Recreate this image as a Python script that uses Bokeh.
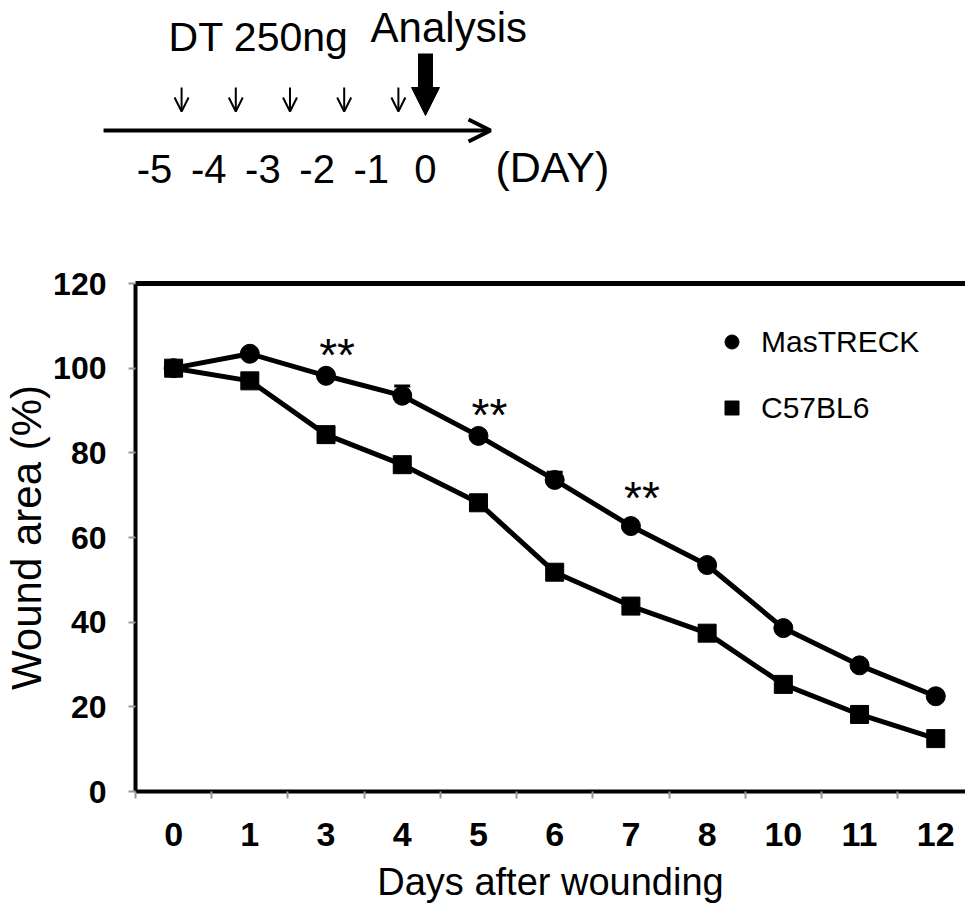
from bokeh.plotting import figure
from bokeh.models import (Range1d, FixedTicker, LinearAxis, Legend, LegendItem,
                          ColumnDataSource, Arrow, OpenHead, NormalHead, Whisker, TeeHead)
from bokeh.layouts import column
from bokeh.core.properties import value
from bokeh.embed import file_html
from bokeh.resources import INLINE

# ---------------- data ----------------
days = ["0", "1", "3", "4", "5", "6", "7", "8", "10", "11", "12"]
mastreck = [100, 103.4, 98.2, 93.5, 84.0, 73.6, 62.7, 53.5, 38.6, 29.8, 22.5]
mastreck_err = [1.0, 1.0, 1.0, 2.3, 1.0, 1.8, 1.0, 1.0, 1.0, 1.0, 1.0]
c57bl6 = [100, 97.0, 84.3, 77.2, 68.2, 51.8, 43.8, 37.4, 25.3, 18.2, 12.5]
c57bl6_err = [1.0, 1.0, 1.0, 1.0, 1.0, 1.0, 1.0, 1.0, 1.0, 1.0, 1.0]
sig_days = ["3", "5", "7"]
sig_marks = ["**", "**", "**"]
sig_y = [105.3, 91.1, 71.5]
y_ticks = [0, 20, 40, 60, 80, 100, 120]

timeline_days = [-5, -4, -3, -2, -1, 0]
timeline_labels = ["-5", "-4", "-3", "-2", "-1", "0"]
dt_days = [-4.5, -3.5, -2.5, -1.5, -0.5]
analysis_day = 0

FONT = "Liberation Sans"
W = 965

# ---------------- top timeline diagram ----------------
top = figure(width=W, height=215, x_range=Range1d(-7.841, 9.963),
             y_range=Range1d(215, 0), output_backend="svg", toolbar_location=None,
             min_border=0)
top.axis.visible = False
top.grid.visible = False
top.outline_line_color = None

top.add_layout(Arrow(end=OpenHead(size=22, line_width=4, line_color="black"),
                     x_start=-5.94, y_start=130, x_end=1.2, y_end=130,
                     line_width=4, line_color="black"))

dt_src = ColumnDataSource(dict(x=dt_days, y0=[87] * len(dt_days), y1=[111] * len(dt_days)))
top.add_layout(Arrow(end=OpenHead(size=14, line_width=2, line_color="black"),
                     x_start="x", y_start="y0", x_end="x", y_end="y1",
                     line_width=2, line_color="black", source=dt_src))

top.add_layout(Arrow(end=NormalHead(size=28, fill_color="black", line_color="black"),
                     x_start=analysis_day, y_start=53, x_end=analysis_day, y_end=115,
                     line_width=15, line_color="black"))

top.text(x=[-3.08], y=[36], text=["DT 250ng"], text_align="center",
         text_baseline="alphabetic", text_font=value(FONT), text_font_size="41px",
         text_color="black")
top.text(x=[0.43], y=[27], text=["Analysis"], text_align="center",
         text_baseline="alphabetic", text_font=value(FONT), text_font_size="42px",
         text_color="black")
top.text(x=timeline_days, y=[168] * len(timeline_days), text=timeline_labels,
         text_align="center", text_baseline="alphabetic", text_font=value(FONT),
         text_font_size="40px", text_color="black")
top.text(x=[2.34], y=[166], text=["(DAY)"], text_align="center",
         text_baseline="alphabetic", text_font=value(FONT), text_font_size="43px",
         text_color="black")

# ---------------- main chart ----------------
xs = [i + 0.5 for i in range(len(days))]
src = ColumnDataSource(dict(
    x=xs, m=mastreck, m_up=[v + e for v, e in zip(mastreck, mastreck_err)],
    c=c57bl6, c_up=[v + e for v, e in zip(c57bl6, c57bl6_err)]))

p = figure(width=W, height=690, x_range=Range1d(0, 10.89),
           y_range=Range1d(0, 120), output_backend="svg", toolbar_location=None,
           min_border_left=132, min_border_top=68, min_border_right=0,
           min_border_bottom=114,
           x_axis_label="Days after wounding", y_axis_label="Wound area (%)")
p.grid.visible = False
p.outline_line_color = None

for f in (top, p):
    if "frame_align" in f.properties():
        f.frame_align = False

p.add_layout(Whisker(source=src, base="x", lower="m", upper="m_up",
                     upper_head=TeeHead(size=16, line_width=3, line_color="black"),
                     lower_head=None, line_width=3, line_color="black", level="underlay"))
p.add_layout(Whisker(source=src, base="x", lower="c", upper="c_up",
                     upper_head=TeeHead(size=16, line_width=3, line_color="black"),
                     lower_head=None, line_width=3, line_color="black", level="underlay"))

p.line("x", "m", source=src, line_width=5, line_color="black")
p.line("x", "c", source=src, line_width=5, line_color="black")
circ = p.scatter("x", "m", source=src, marker="circle", size=19,
                 fill_color="black", line_color="black")
sq = p.scatter("x", "c", source=src, marker="square", size=18,
               fill_color="black", line_color="black")

sig_x = [xs[days.index(d)] for d in sig_days]
p.text(x=sig_x, y=sig_y, text=sig_marks, x_offset=11, y_offset=9,
       text_align="center", text_baseline="middle", text_font=value(FONT),
       text_font_size="46px", text_color="black")

xa = p.xaxis[0]
xa.ticker = FixedTicker(ticks=xs, minor_ticks=list(range(len(days) + 1)))
xa.major_label_overrides = {x: d for x, d in zip(xs, days)}
xa.major_tick_line_color = None
xa.major_tick_out = 7
xa.major_tick_in = 0
xa.minor_tick_line_color = "#999999"
xa.minor_tick_line_width = 2
xa.minor_tick_out = 7
xa.minor_tick_in = 0
xa.axis_line_color = "black"
xa.axis_line_width = 4
xa.major_label_text_font = FONT
xa.major_label_text_font_size = "34px"
xa.major_label_text_font_style = "bold"
xa.major_label_text_color = "black"
xa.major_label_standoff = 24
xa.axis_label_text_font = FONT
xa.axis_label_text_font_size = "38px"
xa.axis_label_text_font_style = "normal"
xa.axis_label_text_color = "black"
xa.axis_label_standoff = 12

ya = p.yaxis[0]
ya.ticker = FixedTicker(ticks=y_ticks)
ya.minor_tick_line_color = None
ya.major_tick_line_color = "#999999"
ya.major_tick_line_width = 2
ya.major_tick_out = 7
ya.major_tick_in = 0
ya.axis_line_color = "black"
ya.axis_line_width = 4
ya.major_label_text_font = FONT
ya.major_label_text_font_size = "32px"
ya.major_label_text_font_style = "bold"
ya.major_label_text_color = "black"
ya.major_label_standoff = 22
ya.axis_label_text_font = FONT
ya.axis_label_text_font_size = "42px"
ya.axis_label_text_font_style = "normal"
ya.axis_label_text_color = "black"
ya.axis_label_standoff = 0

top_axis = LinearAxis(ticker=FixedTicker(ticks=[]), axis_line_width=5,
                      axis_line_color="black", major_tick_line_color=None,
                      minor_tick_line_color=None, major_label_text_font_size="0px",
                      major_label_text_color=None)
p.add_layout(top_axis, "above")

legend = Legend(items=[LegendItem(label="MasTRECK", renderers=[circ]),
                       LegendItem(label="C57BL6", renderers=[sq])],
                location=(579, 366), glyph_width=35, glyph_height=35,
                label_text_font=FONT, label_text_font_size="30px",
                label_text_color="black", label_standoff=12, spacing=31,
                padding=0, margin=0, background_fill_alpha=0,
                border_line_color=None)
p.add_layout(legend)

layout = column(top, p)
open("out.html", "w").write(file_html(layout, INLINE))
